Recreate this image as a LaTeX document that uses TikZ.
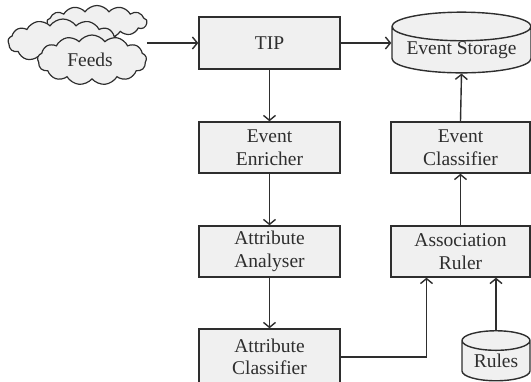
\documentclass[tikz,border=0pt]{standalone}
\usepackage{fontspec}
\setmainfont{Liberation Serif}
\usetikzlibrary{shapes.geometric,shapes.symbols,arrows.meta}
\definecolor{boxfill}{HTML}{F0F0F0}
\definecolor{linec}{HTML}{2E2E2E}
\begin{document}
\begin{tikzpicture}[x=1pt,y=-1pt,
  every node/.style={font=\fontsize{19.5}{22.5}\selectfont, text=linec},
  blk/.style={draw=linec, fill=boxfill, line width=1.4pt, rectangle, inner sep=0pt, align=center},
  db/.style={draw=linec, fill=boxfill, line width=1.4pt, cylinder, shape border rotate=90, inner sep=0pt, align=center},
  cl/.style={draw=linec, fill=boxfill, line width=1.2pt, cloud, cloud puffs=13, cloud puff arc=110, inner sep=0pt},
  arr/.style={draw=linec, line width=1.4pt, -{Straight Barb[length=5pt,width=12pt,line width=1.4pt]}}
]
\useasboundingbox (0,0) rectangle (531,381);
\clip (0,0) rectangle (531,381);
% clouds
\node[cl, minimum width=100, minimum height=33] (back) at (97,22) {};
\node[cl, minimum width=110, minimum height=46] (mid) at (63,42) {};
\node[cl, minimum width=109, minimum height=50] (front) at (92,60) {};
\node (feeds) at (90,60) {Feeds};
% boxes
\node[blk, minimum width=141, minimum height=52] (tip) at (269.5,43) {TIP};
\node[blk, minimum width=141, minimum height=51] (ee) at (269.5,147.5) {Event\\Enricher};
\node[blk, minimum width=141, minimum height=51] (aa) at (269.5,251.5) {Attribute\\Analyser};
\node[blk, minimum width=141, minimum height=56] (ac) at (269.5,357) {Attribute\\Classifier};
\node[blk, minimum width=139, minimum height=51] (ec) at (460.5,147.5) {Event\\Classifier};
\node[blk, minimum width=139, minimum height=51] (ar) at (460.5,251.5) {Association\\Ruler};
\node[db, minimum width=139, minimum height=52, aspect=0.26] (es) at (461.5,50) {\raisebox{-6pt}{Event Storage}};
\node[db, minimum width=68, minimum height=50, aspect=0.44] (rules) at (496,361) {\raisebox{-5pt}{Rules}};
% connectors
\draw[arr] (tip.west -| front.east) -- (tip.west);
\draw[arr] (tip.east) -- (tip.east -| es.west);
\draw[arr] (tip.south) -- (ee.north);
\draw[arr] (ee.south) -- (aa.north);
\draw[arr] (aa.south) -- (ac.north);
\draw[arr] (ac.east) -| ([xshift=-34pt]ar.south);
\draw[arr] (rules.north) -- (rules.north |- ar.south);
\draw[arr] (ar.north) -- (ec.south);
\draw[arr] (ec.north) -- (es.south);
\end{tikzpicture}
\end{document}
